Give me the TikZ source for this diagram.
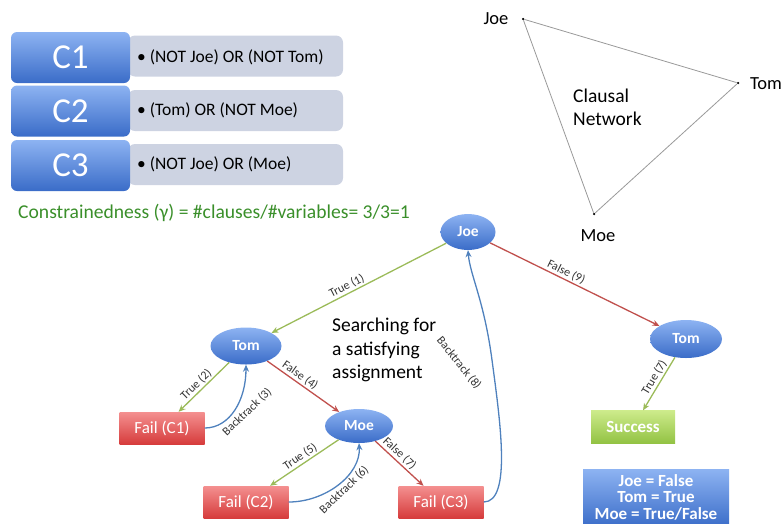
\documentclass[tikz,border=0pt]{standalone}
\usepackage{fontspec}
\setmainfont{Carlito}
\usetikzlibrary{arrows.meta,shapes.geometric}
\definecolor{cblueT}{HTML}{8DB3F2}
\definecolor{cblueB}{HTML}{3A6CC8}
\definecolor{cgray}{HTML}{CDD3E2}
\definecolor{ctxtgreen}{HTML}{3A8F2A}
\definecolor{cgreenE}{HTML}{9BBB59}
\definecolor{credE}{HTML}{C0504D}
\definecolor{cblueE}{HTML}{4F81BD}
\definecolor{cfailT}{HTML}{F49090}
\definecolor{cfailB}{HTML}{D63C3C}
\definecolor{csuccT}{HTML}{CDEB8B}
\definecolor{csuccB}{HTML}{92C243}
\begin{document}
\begin{tikzpicture}[x=1pt,y=-1pt,
  cbox/.style={rectangle,rounded corners=6pt,top color=cblueT,bottom color=cblueB,draw=none,
    minimum width=119pt,minimum height=51pt,text=white,font=\fontsize{35}{35}\selectfont,inner sep=0pt},
  gbox/.style={rectangle,rounded corners=7pt,fill=cgray,draw=none,minimum width=215pt,minimum height=41pt,inner sep=0pt},
  ctext/.style={anchor=west,font=\fontsize{17.5}{18}\selectfont,inner sep=0pt},
  vnode/.style={ellipse,top color=cblueT,bottom color=cblueB,draw=none,text=white,
    font=\fontsize{15.5}{15}\selectfont\bfseries,inner sep=0pt},
  failbox/.style={rectangle,top color=cfailT,bottom color=cfailB,draw=none,text=white,
    minimum width=85pt,minimum height=32pt,font=\fontsize{17}{17}\selectfont,inner sep=0pt},
  succbox/.style={rectangle,top color=csuccT,bottom color=csuccB,draw=none,text=white,
    minimum width=84pt,minimum height=33pt,font=\fontsize{17}{17}\selectfont\bfseries,inner sep=0pt},
  gline/.style={draw=cgreenE,line width=1.3pt,-{Stealth[length=7pt,width=6pt]}},
  rline/.style={draw=credE,line width=1.3pt,-{Stealth[length=7pt,width=6pt]}},
  bline/.style={draw=cblueE,line width=1.3pt,-{Stealth[length=7pt,width=6pt]}},
  lbl/.style={font=\fontsize{12}{12}\selectfont,text=black!80,inner sep=1.5pt},
  tridot/.style={circle,fill=black,inner sep=0pt,minimum size=2.5pt},
  trilbl/.style={font=\fontsize{18.5}{18}\selectfont,inner sep=0pt}
]
\useasboundingbox (0,0) rectangle (784,523);

% clause boxes
\node[gbox] (g1) at (235.5,56) {};
\node[gbox] (g2) at (235.5,110.5) {};
\node[gbox] (g3) at (235.5,164.5) {};
\node[cbox] (c1) at (70.5,57.5) {C1};
\node[cbox] (c2) at (70.5,111) {C2};
\node[cbox] (c3) at (70.5,165.5) {C3};
\node[ctext] (t1) at (137,57) {\textbullet\ (NOT Joe) OR (NOT Tom)};
\node[ctext] (t2) at (137,110.5) {\textbullet\ (Tom) OR (NOT Moe)};
\node[ctext] (t3) at (137,164.5) {\textbullet\ (NOT Joe) OR (Moe)};

\node[anchor=west,text=ctxtgreen,font=\fontsize{19.6}{20}\selectfont,inner sep=0pt] (cons) at (18,213)
  {Constrainedness (γ) = \#clauses/\#variables= 3/3=1};

% clausal network
\node[tridot] (nj) at (523,19) {};
\node[tridot] (nt) at (738,83) {};
\node[tridot] (nm) at (594,214) {};
\draw[black!40,line width=0.8pt] (nj) -- (nt) -- (nm) -- (nj);
\node[trilbl] (lj) at (496,19) {Joe};
\node[trilbl] (lt) at (766,84) {Tom};
\node[trilbl] (lm) at (598,236) {Moe};
\node[trilbl,anchor=west,align=left,font=\fontsize{19.5}{23}\selectfont] (cn) at (573,107.5) {Clausal\\Network};

% search tree
\node[vnode,minimum width=55pt,minimum height=36pt] (joe) at (468,232) {Joe};
\node[vnode,minimum width=71pt,minimum height=37pt] (tomL) at (246,346) {Tom};
\node[vnode,minimum width=68pt,minimum height=34pt] (moe) at (359,426) {Moe};
\node[vnode,minimum width=72pt,minimum height=38pt] (tomR) at (686,339) {Tom};
\node[failbox] (f1) at (162,428) {Fail (C1)};
\node[failbox] (f2) at (246,502) {Fail (C2)};
\node[failbox] (f3) at (441,502) {Fail (C3)};
\node[succbox] (succ) at (633,427) {Success};

\draw[gline] (joe) -- node[lbl,sloped,above,pos=0.55] {True (1)} (tomL);
\draw[rline] (joe) -- node[lbl,sloped,above,pos=0.43] {False (9)} (tomR);
\draw[gline] (tomL) -- node[lbl,sloped,above,pos=0.55] {True (2)} (f1);
\draw[rline] (tomL) -- node[lbl,sloped,above,pos=0.4] {False (4)} (moe);
\draw[gline] (moe) -- node[lbl,sloped,above,pos=0.5] {True (5)} (f2);
\draw[rline] (moe) -- node[lbl,sloped,above,pos=0.4] {False (7)} (f3);
\draw[gline] (tomR) -- node[lbl,sloped,above,pos=0.45] {True (7)} (succ);

\draw[bline] (f1.east) .. controls (230,428) and (246,400) .. (tomL.south);
\node[lbl,rotate=44] (b3) at (247,412) {Backtrack (3)};
\draw[bline] (f2.east) .. controls (325,502) and (361,475) .. (moe.south);
\node[lbl,rotate=44] (b6) at (344,490) {Backtrack (6)};
\draw[bline] (f3.east) .. controls (512,502) and (500,420) .. (492,360) .. controls (484,300) and (470,275) .. (joe.south);
\node[lbl,rotate=-51] (b8) at (459,363) {Backtrack (8)};

\node[anchor=west,align=left,font=\fontsize{19.5}{23.5}\selectfont,inner sep=0pt] (srch) at (332,350)
  {Searching for\\a satisfying\\assignment};

% answer box
\node[rectangle,top color=cblueT,bottom color=cblueB,draw=none,text=white,minimum width=146pt,
  minimum height=58pt,anchor=north west,inner sep=0pt] (ans) at (583,469) {};
\node[align=center,text=white,font=\fontsize{17}{16.5}\selectfont\bfseries,inner sep=0pt] (anst) at (656,497)
  {Joe = False\\Tom = True\\Moe = True/False};
\end{tikzpicture}
\end{document}
